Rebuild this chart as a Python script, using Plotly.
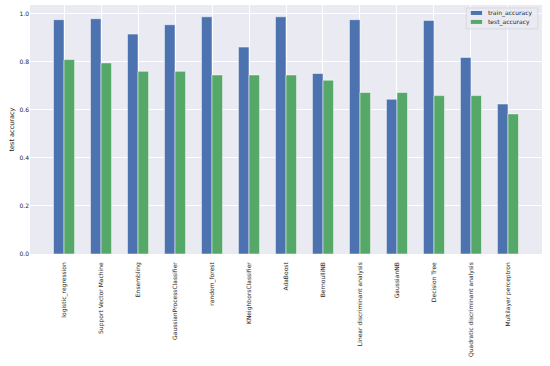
import plotly.graph_objects as go

# model names and scores
models = ["logistic_regression", "Support Vector Machine", "Ensembling",
          "GaussianProcessClassifier", "random_forest", "KNeighborsClassifier",
          "AdaBoost", "BernoulliNB", "Linear discriminant analysis", "GaussianNB",
          "Decision Tree", "Quadratic discriminant analysis", "Multilayer perceptron"]
train_accuracy = [0.975, 0.979, 0.915, 0.954, 0.987, 0.861, 0.987,
                  0.751, 0.975, 0.644, 0.972, 0.818, 0.624]
test_accuracy = [0.809, 0.795, 0.760, 0.760, 0.745, 0.745, 0.745,
                 0.723, 0.672, 0.672, 0.659, 0.659, 0.583]
series_names = ["train_accuracy", "test_accuracy"]
colors = ["#4C72B0", "#55A868"]

fig = go.Figure()
for name, vals, c in zip(series_names, [train_accuracy, test_accuracy], colors):
    fig.add_trace(go.Bar(x=models, y=vals, name=name, showlegend=False,
                         marker=dict(color=c, line=dict(color="white", width=0.5))))

# matplotlib style legend box (wide flat swatches), drawn in paper coords
fig.add_shape(type="rect", xref="paper", yref="paper", x0=0.852, x1=0.992, y0=0.904, y1=0.988,
              fillcolor="rgba(234,234,242,0.8)", line=dict(color="#D8D8E0", width=1))
for i, (name, c) in enumerate(zip(series_names, colors)):
    yc = 0.968 - i * 0.036
    fig.add_shape(type="rect", xref="paper", yref="paper", x0=0.861, x1=0.883,
                  y0=yc - 0.008, y1=yc + 0.008, fillcolor=c, line=dict(width=0))
    fig.add_annotation(xref="paper", yref="paper", x=0.890, y=yc, text=name,
                       showarrow=False, xanchor="left", yanchor="middle",
                       font=dict(size=6))

fig.update_layout(
    width=550, height=366,
    margin=dict(l=30, r=8, t=5, b=112),
    paper_bgcolor="white", plot_bgcolor="#EAEAF2",
    barmode="group", bargap=0.43, bargroupgap=0,
    font=dict(family="DejaVu Sans", size=6, color="#262626"),
)
fig.update_xaxes(tickangle=-90, range=[-0.92, 12.92], showgrid=True, automargin=False,
                 gridcolor="white", gridwidth=1, ticks="", zeroline=False,
                 ticklabelstandoff=6, tickfont=dict(size=6))
fig.update_yaxes(title=dict(text="test accuracy", font=dict(size=6.5), standoff=4),
                 range=[0, 1.036], dtick=0.2, tickformat=".1f", automargin=False,
                 showgrid=True, gridcolor="white", gridwidth=1, ticks="", zeroline=False)

# drop the default page margin so the figure sits at the window's corner
fig.write_html("out.html", config={"displayModeBar": False},
               post_script="document.body.style.margin='0';")
